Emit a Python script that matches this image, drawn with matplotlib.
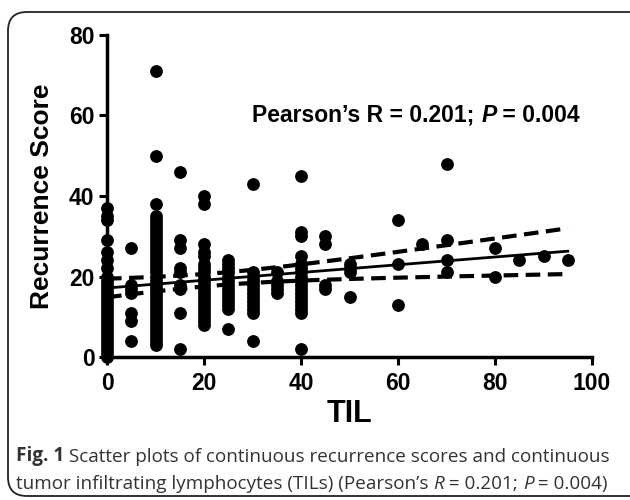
import numpy as np
import matplotlib.pyplot as plt
from matplotlib.patches import FancyBboxPatch

# recurrence scores, grouped by TIL (%)
til_levels = [0, 5, 10, 15, 20, 25, 30, 35, 40, 45, 50, 60, 65, 70, 80, 85, 90, 95]
scores_by_til = [
    [37, 35, 34, 29, 26, 24, 22, 20, 19, 18, 17, 16, 15, 14, 13, 12, 11, 10, 9, 8, 7, 6, 5, 4, 3, 2, 1, 0],
    [27, 18, 17, 16, 11, 9, 4],
    [71, 50, 38, 35, 34, 33, 32, 31, 30, 29, 28, 27, 26, 25, 24, 23, 22, 21, 20, 19, 18, 17, 16, 15,
     14, 13, 12, 11, 10, 9, 8, 7, 6, 5, 4, 3],
    [46, 29, 27, 22, 21, 18, 17, 11, 2],
    [40, 38, 28, 26, 25, 23, 22, 21, 20, 19, 18, 17, 16, 15, 14, 13, 12, 11, 10, 9, 8],
    [24, 23, 22, 21, 20, 19, 18, 17, 16, 15, 14, 13, 12, 7],
    [43, 21, 20, 19, 18, 17, 16, 15, 14, 13, 12, 11, 4],
    [21, 19, 18, 17, 16],
    [45, 31, 30, 25, 23, 22, 21, 20, 19, 18, 17, 16, 15, 14, 13, 12, 11, 2],
    [30, 28, 18, 17],
    [23, 22, 21, 15],
    [34, 23, 13],
    [28],
    [48, 29, 24, 21],
    [27, 20],
    [24],
    [25],
    [24],
]

til = np.concatenate([[t] * len(s) for t, s in zip(til_levels, scores_by_til)]).astype(float)
score = np.concatenate(scores_by_til).astype(float)

plt.rcParams['font.family'] = ['Liberation Sans', 'DejaVu Sans']

fig = plt.figure(figsize=(6.3, 5.0), dpi=100)
ax = fig.add_axes([107 / 630, 1 - 357 / 500, 485 / 630, 322 / 500])

# linear fit with 95% confidence band
slope, intercept = np.polyfit(til, score, 1)
n = len(til)
resid = score - (intercept + slope * til)
s_err = np.sqrt(np.sum(resid ** 2) / (n - 2))
xbar = til.mean()
sxx = np.sum((til - xbar) ** 2)
xf = np.linspace(0, til.max(), 200)
yf = intercept + slope * xf
half = 1.97 * s_err * np.sqrt(1 / n + (xf - xbar) ** 2 / sxx)

ax.scatter(til, score, s=85, color='black', zorder=3, clip_on=False, linewidths=0)
ax.plot(xf, yf, color='black', lw=2, zorder=4)
ax.plot(xf, yf + half, color='black', lw=3, ls=(0, (3.5, 1.8)), zorder=4)
ax.plot(xf, yf - half, color='black', lw=3, ls=(0, (3.5, 1.8)), zorder=4)

ax.set_xlim(0, 100)
ax.set_ylim(0, 80)
ax.set_xticks([0, 20, 40, 60, 80, 100])
ax.set_yticks([0, 20, 40, 60, 80])
for side in ['top', 'right']:
    ax.spines[side].set_visible(False)
for side in ['left', 'bottom']:
    ax.spines[side].set_linewidth(2.5)
ax.tick_params(width=2.2, length=6, labelsize=16.5, pad=3)
ax.tick_params(axis='x', pad=5)
for lab in ax.get_xticklabels() + ax.get_yticklabels():
    lab.set_fontweight('bold')

ax.set_xlabel('TIL', fontsize=22, fontweight='bold', labelpad=3)
ax.set_ylabel('Recurrence Score', fontsize=19, fontweight='bold', labelpad=11)

# annotation inside plot
t1 = ax.text(0.30, 0.715, 'Pearson\u2019s R = 0.201; ', transform=ax.transAxes,
             fontsize=16.5, fontweight='bold', va='bottom', ha='left')
t2 = ax.annotate('P', xy=(1, 0), xycoords=t1, fontsize=16.5, fontweight='bold',
                 fontstyle='italic', va='bottom', ha='left')
ax.annotate(' = 0.004', xy=(1, 0), xycoords=t2, fontsize=16.5, fontweight='bold',
            va='bottom', ha='left')

# rounded frame around the figure
frame = FancyBboxPatch((8 / 630, 4 / 500), 700 / 630, 484 / 500,
                       boxstyle='round,pad=0,rounding_size=0.03',
                       transform=fig.transFigure, fill=False, ec='#222222', lw=1.3,
                       mutation_aspect=630 / 500)
fig.patches.append(frame)

# caption
cap = '#333333'
cf = ['Open Sans', 'DejaVu Sans']
fs = 13.6
c1 = fig.text(16 / 630, 1 - 461 / 500, 'Fig. 1', fontsize=fs, fontweight='bold',
              color=cap, family=cf, va='baseline')
plt.annotate(' Scatter plots of continuous recurrence scores and continuous',
             xy=(1, 0), xycoords=c1, fontsize=fs, color=cap, family=cf,
             va='bottom', ha='left', annotation_clip=False)
l2 = fig.text(16 / 630, 1 - 489 / 500, 'tumor infiltrating lymphocytes (TILs) (Pearson\u2019s ',
              fontsize=fs, color=cap, family=cf, va='baseline')
parts = [('R', 'italic'), (' = 0.201; ', 'normal'), ('P', 'italic'), (' = 0.004)', 'normal')]
prev = l2
for txt, st in parts:
    prev = plt.annotate(txt, xy=(1, 0), xycoords=prev, fontsize=fs, color=cap,
                        family=cf, fontstyle=st, va='bottom', ha='left',
                        annotation_clip=False)

fig.savefig('out.png', dpi=100)
